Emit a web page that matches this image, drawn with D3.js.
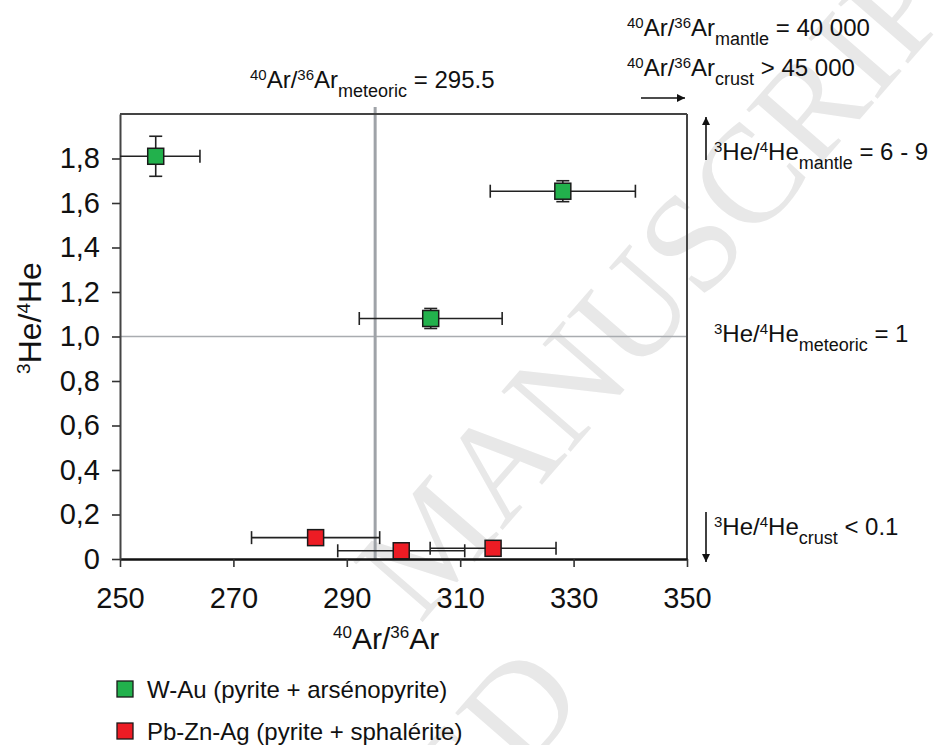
<!DOCTYPE html>
<html>
<head>
<meta charset="utf-8">
<script src="https://cdn.jsdelivr.net/npm/d3@7"></script>
<style>
  html, body { margin: 0; padding: 0; background: #fff; }
  svg { display: block; }
  text { font-family: "Liberation Sans", Arial, sans-serif; fill: #111; }
</style>
</head>
<body>
<svg id="chart" width="937" height="745"></svg>
<script>
// ---------------- data ----------------
const seriesNames = ["W-Au (pyrite + arsénopyrite)", "Pb-Zn-Ag (pyrite + sphalérite)"];
const seriesColors = ["#22b14c", "#ed1c24"];

const wAuAr   = [256.3, 328.1, 304.8];
const wAuHe   = [1.81, 1.653, 1.081];
const wAuArErr = [7.8, 12.8, 12.6];
const wAuHeErr = [0.09, 0.047, 0.045];

const pbAr    = [284.5, 299.6, 315.8];
const pbHe    = [0.096, 0.037, 0.048];
const pbArErr = [11.3, 11.2, 11.1];
const pbHeErr = [0.0, 0.0, 0.0];

const xTicks = [250, 270, 290, 310, 330, 350];
const yTicks = [0, 0.2, 0.4, 0.6, 0.8, 1.0, 1.2, 1.4, 1.6, 1.8];
const yTickLabels = ["0", "0,2", "0,4", "0,6", "0,8", "1,0", "1,2", "1,4", "1,6", "1,8"];

const meteoricArLine = 295;   // where the reference line is drawn
const meteoricHeLine = 1.0;

// ---------------- setup ----------------
const svg = d3.select("#chart");
const L = 120, R = 687, T = 114, B = 559;
const x = d3.scaleLinear().domain([250, 350]).range([L, R]);
const y = d3.scaleLinear().domain([0, 2]).range([B, T]);

// rich text helper: parts = [[text, kind]] kind: n | sup | sub
function rich(g, px, py, parts, F, opts = {}) {
  const sup = opts.sup || Math.round(F * 0.62);
  const sub = opts.sub || Math.round(F * 0.75);
  const supRaise = opts.supRaise || Math.round(F * 0.33);
  const subDrop = opts.subDrop || Math.round(F * 0.37);
  const t = g.append("text").attr("x", px).attr("y", py).attr("font-size", F);
  if (opts.anchor) t.attr("text-anchor", opts.anchor);
  if (opts.transform) t.attr("transform", opts.transform);
  let off = 0;
  parts.forEach(([s, k]) => {
    let target = k === "sup" ? -supRaise : k === "sub" ? subDrop : 0;
    const ts = t.append("tspan").text(s).attr("dy", target - off);
    if (k === "sup") ts.attr("font-size", sup);
    if (k === "sub") ts.attr("font-size", sub);
    off = target;
  });
  return t;
}

// ---------------- watermark ----------------
const wm = svg.append("g");
wm.append("text")
  .attr("transform", "translate(420,625) rotate(-49)")
  .attr("font-size", 140)
  .style("font-family", "'Liberation Serif', serif")
  .style("fill", "#e8e8e8")
  .text("MANUSCRIPT");
wm.append("text")
  .attr("transform", "translate(588,700) rotate(-49)")
  .attr("text-anchor", "end")
  .attr("font-size", 140)
  .style("font-family", "'Liberation Serif', serif")
  .style("fill", "#e8e8e8")
  .text("ACCEPTED");

// ---------------- reference lines ----------------
svg.append("line")
  .attr("x1", L).attr("x2", R)
  .attr("y1", y(meteoricHeLine)).attr("y2", y(meteoricHeLine))
  .attr("stroke", "#a9acb0").attr("stroke-width", 1.5);
svg.append("line")
  .attr("x1", x(meteoricArLine)).attr("x2", x(meteoricArLine))
  .attr("y1", 107).attr("y2", B)
  .attr("stroke", "#9fa3a8").attr("stroke-width", 3);

// ---------------- frame ----------------
svg.append("line").attr("x1", L).attr("x2", R).attr("y1", T).attr("y2", T)
  .attr("stroke", "#444").attr("stroke-width", 2);
svg.append("line").attr("x1", R).attr("x2", R).attr("y1", T).attr("y2", B)
  .attr("stroke", "#444").attr("stroke-width", 2);

// ---------------- axes ----------------
const xAxis = svg.append("g").attr("transform", `translate(0,${B})`)
  .call(d3.axisBottom(x).tickValues(xTicks).tickSize(8).tickPadding(20).tickSizeOuter(0)
        .tickFormat(d3.format("d")));
xAxis.select(".domain").attr("stroke", "#111").attr("stroke-width", 2.5);
xAxis.selectAll(".tick line").attr("stroke", "#333").attr("stroke-width", 1.6);
xAxis.selectAll(".tick text").attr("font-size", 29).attr("font-family", "Liberation Sans, Arial, sans-serif").attr("fill", "#111");

const yAxis = svg.append("g").attr("transform", `translate(${L},0)`)
  .call(d3.axisLeft(y).tickValues(yTicks).tickSize(8).tickPadding(12).tickSizeOuter(0)
        .tickFormat((d, i) => yTickLabels[i]));
yAxis.select(".domain").attr("stroke", "#444").attr("stroke-width", 2);
yAxis.selectAll(".tick line").attr("stroke", "#333").attr("stroke-width", 1.6);
yAxis.selectAll(".tick text").attr("font-size", 29).attr("font-family", "Liberation Sans, Arial, sans-serif").attr("fill", "#111");

// ---------------- data marks ----------------
svg.append("clipPath").attr("id", "plotclip").append("rect")
  .attr("x", L).attr("y", T).attr("width", R - L).attr("height", B - T);

const series = [
  { ar: wAuAr, he: wAuHe, arErr: wAuArErr, heErr: wAuHeErr, color: seriesColors[0] },
  { ar: pbAr, he: pbHe, arErr: pbArErr, heErr: pbHeErr, color: seriesColors[1] }
];
const cap = 6.5;
series.forEach(s => {
  const pts = s.ar.map((a, i) => ({ a, h: s.he[i], ea: s.arErr[i], eh: s.heErr[i] }));
  const eg = svg.append("g").attr("clip-path", "url(#plotclip)")
    .attr("stroke", "#222").attr("stroke-width", 1.6).attr("fill", "none");
  pts.forEach(p => {
    const cx = x(p.a), cy = y(p.h);
    const x0 = x(p.a - p.ea), x1 = x(p.a + p.ea);
    eg.append("line").attr("x1", x0).attr("x2", x1).attr("y1", cy).attr("y2", cy);
    eg.append("line").attr("x1", x0).attr("x2", x0).attr("y1", cy - cap).attr("y2", cy + cap);
    eg.append("line").attr("x1", x1).attr("x2", x1).attr("y1", cy - cap).attr("y2", cy + cap);
    if (p.eh > 0) {
      const y0 = y(p.h + p.eh), y1 = y(p.h - p.eh);
      eg.append("line").attr("x1", cx).attr("x2", cx).attr("y1", y0).attr("y2", y1);
      eg.append("line").attr("x1", cx - cap).attr("x2", cx + cap).attr("y1", y0).attr("y2", y0);
      eg.append("line").attr("x1", cx - cap).attr("x2", cx + cap).attr("y1", y1).attr("y2", y1);
    }
  });
  svg.append("g").selectAll("rect").data(pts).join("rect")
    .attr("x", d => x(d.a) - 8).attr("y", d => y(d.h) - 8)
    .attr("width", 16).attr("height", 16)
    .attr("fill", s.color).attr("stroke", "#1a1a1a").attr("stroke-width", 1.5);
});

// ---------------- arrows ----------------
const defs = svg.append("defs");
defs.append("marker").attr("id", "ah").attr("viewBox", "0 0 10 10")
  .attr("refX", 10).attr("refY", 5).attr("markerWidth", 10).attr("markerHeight", 8)
  .attr("markerUnits", "userSpaceOnUse").attr("orient", "auto")
  .append("path").attr("d", "M0,0 L10,5 L0,10 Z").attr("fill", "#111");
function arrow(x1, y1, x2, y2) {
  svg.append("line").attr("x1", x1).attr("y1", y1).attr("x2", x2).attr("y2", y2)
    .attr("stroke", "#111").attr("stroke-width", 1.6).attr("marker-end", "url(#ah)");
}
arrow(706, 160, 706, 117);
arrow(706, 512, 706, 562);
arrow(641, 98, 685, 98);

// ---------------- annotations ----------------
const ann = svg.append("g");
const F = 24, opt = { sup: 15, sub: 18, supRaise: 8, subDrop: 9 };
rich(ann, 250, 88, [["40","sup"],["Ar/","n"],["36","sup"],["Ar","n"],["meteoric","sub"],[" = 295.5","n"]], F, opt);
rich(ann, 627, 36, [["40","sup"],["Ar/","n"],["36","sup"],["Ar","n"],["mantle","sub"],[" = 40 000","n"]], F, opt);
rich(ann, 627, 76, [["40","sup"],["Ar/","n"],["36","sup"],["Ar","n"],["crust","sub"],[" > 45 000","n"]], F, opt);
rich(ann, 714, 160, [["3","sup"],["He/","n"],["4","sup"],["He","n"],["mantle","sub"],[" = 6 - 9","n"]], F, opt);
rich(ann, 714, 342, [["3","sup"],["He/","n"],["4","sup"],["He","n"],["meteoric","sub"],[" = 1","n"]], F, opt);
rich(ann, 714, 535, [["3","sup"],["He/","n"],["4","sup"],["He","n"],["crust","sub"],[" < 0.1","n"]], F, opt);

// axis titles
rich(ann, 333, 649, [["40","sup"],["Ar/","n"],["36","sup"],["Ar","n"]], 30, { sup: 17, supRaise: 11 });
rich(ann, 0, 0, [["3","sup"],["He/","n"],["4","sup"],["He","n"]], 32,
     { sup: 19, supRaise: 11, anchor: "middle", transform: "translate(41,318) rotate(-90)" });

// ---------------- legend ----------------
const lg = svg.append("g");
seriesNames.forEach((name, i) => {
  const cy = 689 + i * 42;
  lg.append("rect").attr("x", 117).attr("y", cy - 8).attr("width", 16).attr("height", 16)
    .attr("fill", seriesColors[i]).attr("stroke", "#1a1a1a").attr("stroke-width", 1.3);
  lg.append("text").attr("x", 147).attr("y", cy + 8.5).attr("font-size", 24).text(name);
});
</script>
</body>
</html>
